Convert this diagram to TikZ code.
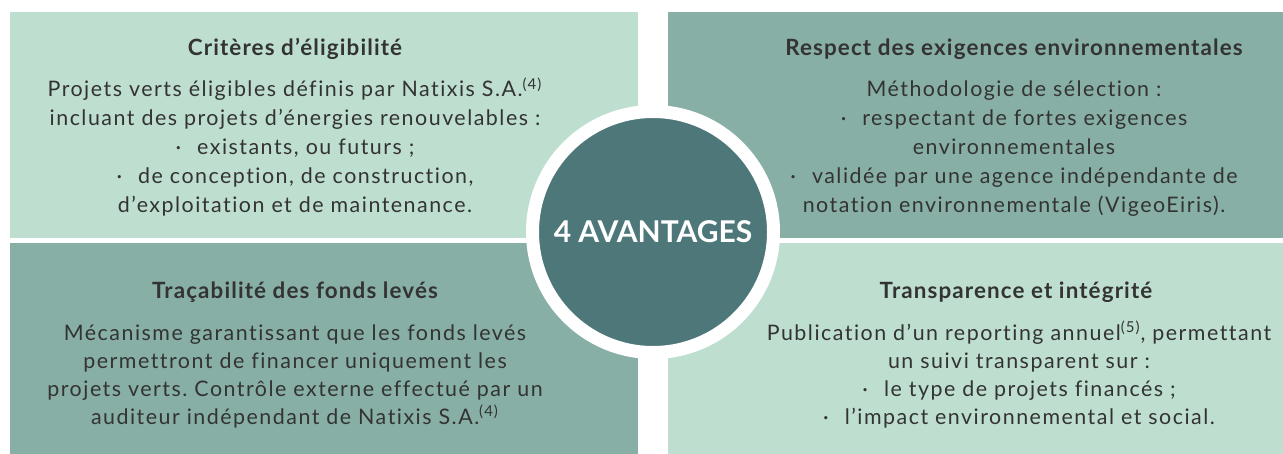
\documentclass[tikz,border=0pt]{standalone}
\usepackage{fontspec}
\setmainfont{Lato}
\usepackage{tikz}
\usetikzlibrary{calc, shapes}

\definecolor{vertclair}{HTML}{BEDFD0}
\definecolor{vertfonce}{HTML}{87AFA6}
\definecolor{petrole}{HTML}{4D7779}
\definecolor{texte}{HTML}{333333}

\newcommand{\puce}{\textperiodcentered\hspace{0.75em}}
\newcommand{\renvoi}[1]{\textsuperscript{(#1)}}
\frenchspacing

\tikzset{
    titre/.style = {align = center, anchor = base, text = texte, inner sep = 0pt,
        font = \fontsize{11.2pt}{13pt}\selectfont\bfseries\addfontfeatures{LetterSpace=5, Ligatures=NoCommon}},
    corps/.style = {align = center, anchor = base, text = texte, inner sep = 0pt,
        font = \fontsize{10.7pt}{14.5pt}\selectfont\addfontfeatures{LetterSpace=7, Ligatures=NoCommon}},
    corps serre/.style = {corps,
        font = \fontsize{10.7pt}{14pt}\selectfont\addfontfeatures{LetterSpace=7, Ligatures=NoCommon}}
}

\begin{document}
\begin{tikzpicture}[x = 0.5pt, y = -0.5pt]
            \useasboundingbox (0, 0) rectangle (1283, 454);
            \coordinate (centre) at (653, 232);
            \coordinate (col_g) at (295, 0);
            \coordinate (col_d) at (1016, 0);

            % les quatre cadres
            \fill[vertclair] (10, 12) rectangle (638, 238);
            \fill[vertfonce] (668, 12) rectangle (1283, 238);
            \fill[vertfonce] (10, 243) rectangle (638, 454);
            \fill[vertclair] (668, 243) rectangle (1283, 454);

            % haut gauche (la base du noeud est celle de la derniere ligne)
            \node[titre] (crit_titre) at ($(col_g) + (0, 56)$) {Critères d’éligibilité};
            \node[corps] (crit_corps) at ($(col_g) + (0, 213)$) {Projets verts éligibles définis par Natixis S.A.\renvoi{4}\\
                incluant des projets d’énergies renouvelables :\\
                \puce existants, ou futurs ;\\
                \puce de conception, de construction,\\
                d’exploitation et de maintenance.};

            % haut droite
            \node[titre] (env_titre) at ($(col_d) + (-2, 56)$) {Respect des exigences environnementales};
            \node[corps] (env_corps) at ($(col_d) + (-2, 213)$) {Méthodologie de sélection :\\
                \puce respectant de fortes exigences\\
                environnementales\\
                \puce validée par une agence indépendante de\\
                notation environnementale (VigeoEiris).};

            % bas gauche
            \node[titre] (trac_titre) at ($(col_g) + (0, 298)$) {Traçabilité des fonds levés};
            \node[corps serre] (trac_corps) at ($(col_g) + (0, 424)$) {Mécanisme garantissant que les fonds levés\\
                permettront de financer uniquement les\\
                projets verts. Contrôle externe effectué par un\\
                auditeur indépendant de Natixis S.A.\renvoi{4}};

            % bas droite
            \node[titre] (transp_titre) at ($(col_d) + (0, 298)$) {Transparence et intégrité};
            \node[corps serre] (transp_corps) at ($(col_d) + (3, 424)$) {Publication d’un reporting annuel\renvoi{5}, permettant\\
                un suivi transparent sur :\\
                \puce le type de projets financés ;\\
                \puce l’impact environnemental et social.};

            % disque central
            \node[circle, fill = petrole, draw = white, line width = 6.5pt, minimum size = 120.5pt,
                text = white, font = \fontsize{15pt}{18pt}\selectfont\bfseries] (avantages) at (centre) {4 AVANTAGES};
        \end{tikzpicture}
\end{document}
